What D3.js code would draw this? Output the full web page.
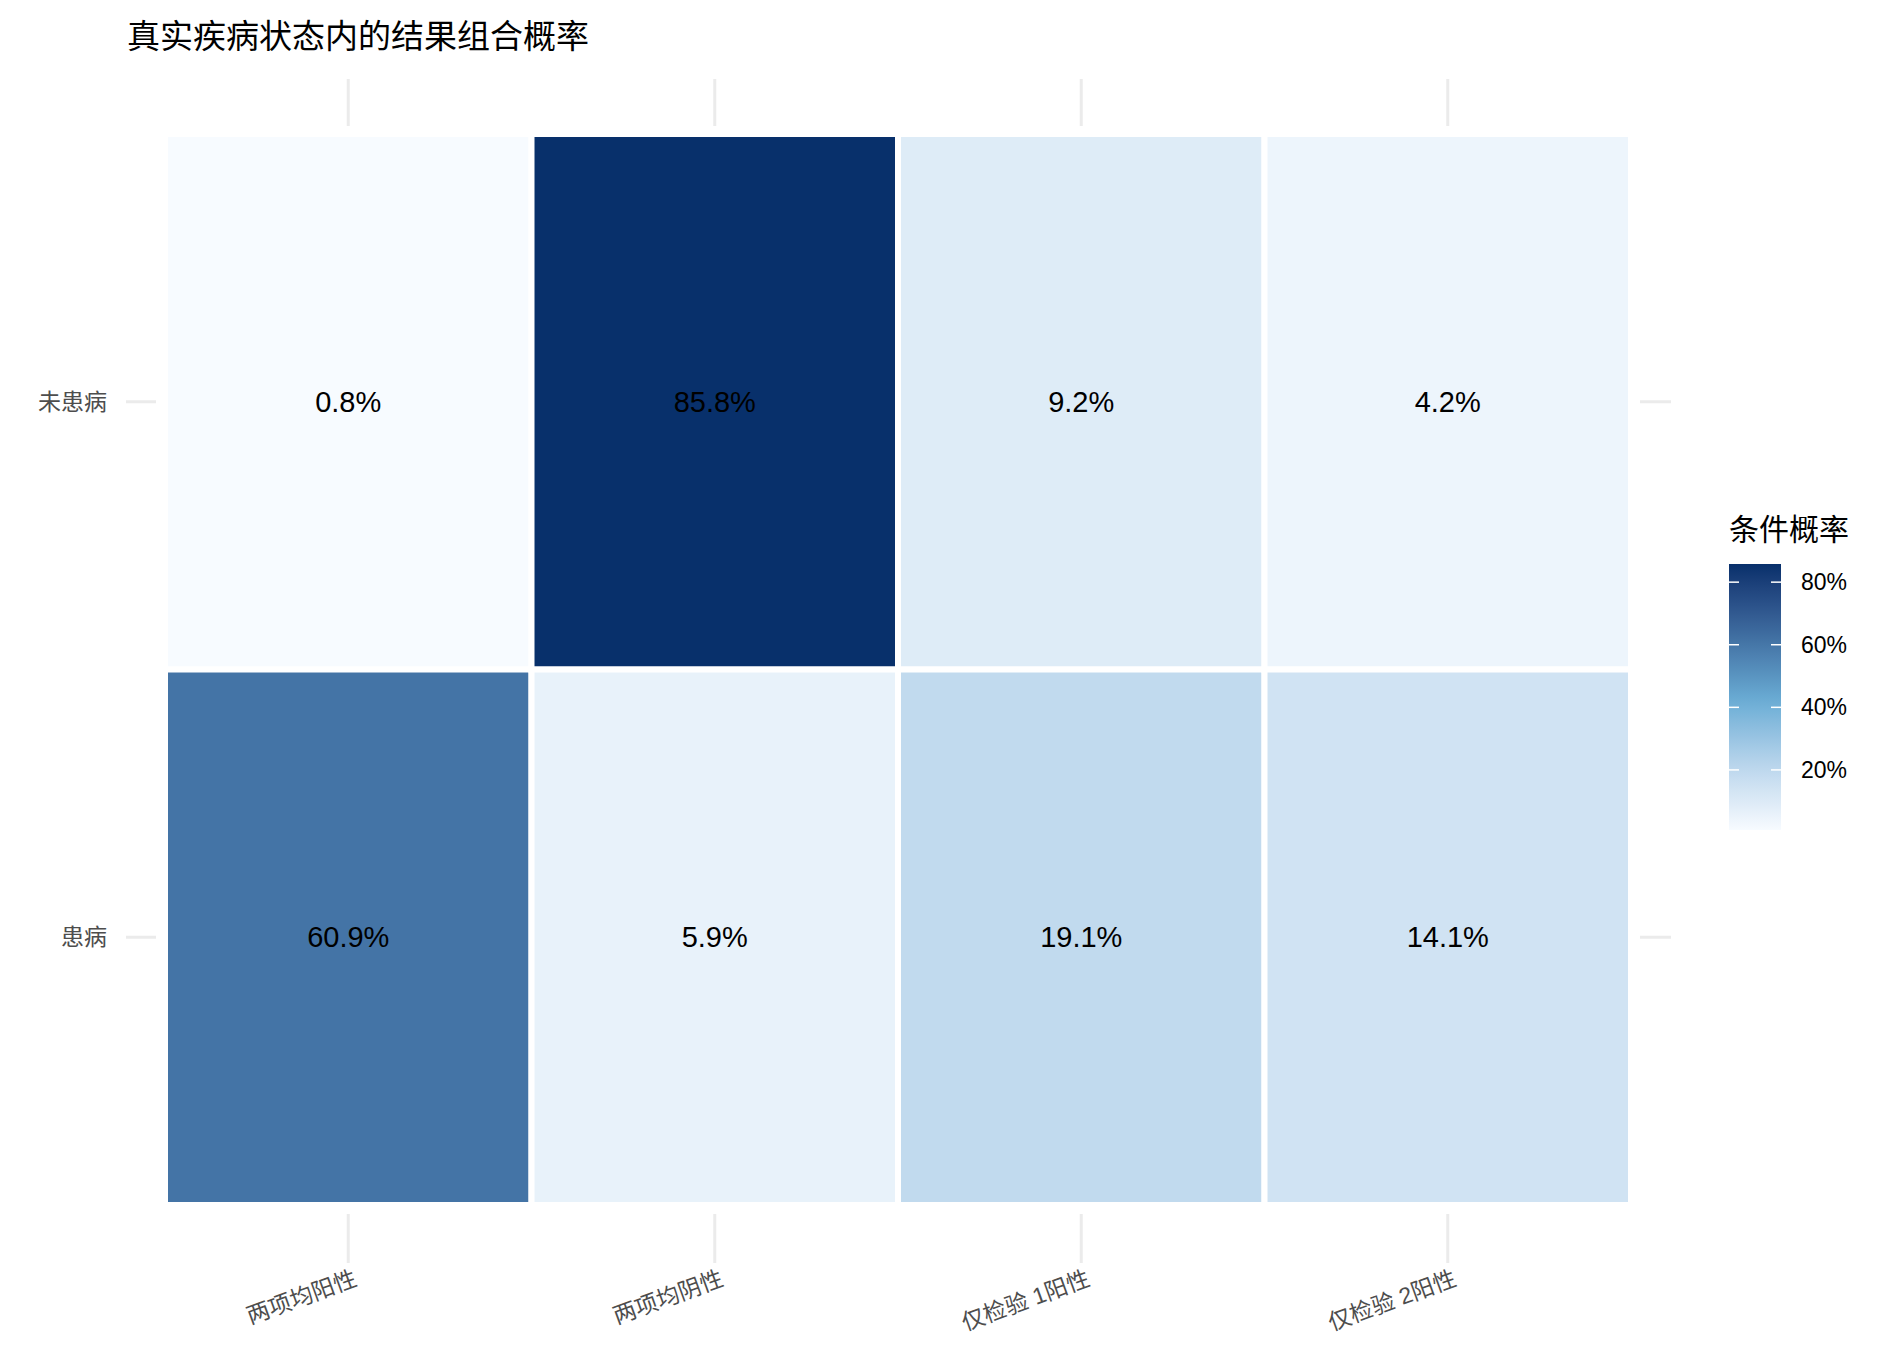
<!DOCTYPE html>
<html><head><meta charset="utf-8">
<script src="https://cdn.jsdelivr.net/npm/d3@7"></script>
<style>body{margin:0;background:#fff}text{font-family:"Liberation Sans","Noto Sans CJK SC",sans-serif}</style>
</head><body><svg id="c" width="1892" height="1364"></svg>
<script>
const categories = ["两项均阳性","两项均阴性","仅检验 1阳性","仅检验 2阳性"];
const states = ["未患病","患病"];
const valuesHealthy = [0.8, 85.8, 9.2, 4.2];
const valuesDiseased = [60.9, 5.9, 19.1, 14.1];
const legendTicks = [20, 40, 60, 80];
const title = "真实疾病状态内的结果组合概率";
const legendTitle = "条件概率";

const cells = [];
categories.forEach((c,i)=>{cells.push({x:c,y:states[0],v:valuesHealthy[i]});cells.push({x:c,y:states[1],v:valuesDiseased[i]});});
const all = cells.map(d=>d.v);
const vmin = d3.min(all), vmax = d3.max(all);

const svg = d3.select("#c");
const L=165,R=1631,T=134,B=1205;
const x = d3.scaleBand().domain(categories).range([L,R]);
const y = d3.scaleBand().domain(states).range([T,B]);
const tn = d3.scaleLinear().domain([vmin,vmax]).range([0,1]);
const col = d3.scaleLinear().domain([0,0.22,0.48,1]).range(["#f7fbff","#c0d9ee","#6baed6","#08306b"]).interpolate(d3.interpolateLab);
const fill = v=>col(tn(v));

// grid ticks (ggplot style)
const g = svg.append("g");
categories.forEach(c=>{const cx=x(c)+x.bandwidth()/2;
  g.append("line").attr("x1",cx).attr("x2",cx).attr("y1",79).attr("y2",126).attr("stroke","#ebebeb").attr("stroke-width",3);
  g.append("line").attr("x1",cx).attr("x2",cx).attr("y1",1214).attr("y2",1263).attr("stroke","#ebebeb").attr("stroke-width",3);
});
states.forEach(s=>{const cy=y(s)+y.bandwidth()/2;
  g.append("line").attr("x1",126).attr("x2",156).attr("y1",cy).attr("y2",cy).attr("stroke","#ebebeb").attr("stroke-width",3);
  g.append("line").attr("x1",1640).attr("x2",1671).attr("y1",cy).attr("y2",cy).attr("stroke","#ebebeb").attr("stroke-width",3);
});

svg.append("g").selectAll("rect").data(cells).join("rect")
  .attr("x",d=>x(d.x)).attr("y",d=>y(d.y)).attr("width",x.bandwidth()).attr("height",y.bandwidth())
  .attr("fill",d=>fill(d.v)).attr("stroke","#fff").attr("stroke-width",6);
svg.append("g").selectAll("text").data(cells).join("text")
  .attr("x",d=>x(d.x)+x.bandwidth()/2).attr("y",d=>y(d.y)+y.bandwidth()/2)
  .attr("text-anchor","middle").attr("dominant-baseline","central").attr("font-size",29).attr("fill","#000")
  .text(d=>d.v.toFixed(1)+"%");

// axis labels
states.forEach(s=>svg.append("text").attr("x",107).attr("y",y(s)+y.bandwidth()/2).attr("text-anchor","end")
  .attr("dominant-baseline","central").attr("font-size",23).attr("fill","#4d4d4d").text(s));
categories.forEach(c=>{const cx=x(c)+x.bandwidth()/2;
  svg.append("text").attr("transform",`translate(${cx+10},${1285}) rotate(-20)`).attr("text-anchor","end")
  .attr("font-size",23).attr("fill","#4d4d4d").text(c);});

svg.append("text").attr("x",127).attr("y",48).attr("font-size",33).attr("fill","#000").text(title);

// legend
const lx=1729, lw=52, ly0=564, ly1=830;
const ls = d3.scaleLinear().domain([vmin,vmax]).range([ly1,ly0]);
const defs=svg.append("defs");
const grad=defs.append("linearGradient").attr("id","lg").attr("x1",0).attr("y1",1).attr("x2",0).attr("y2",0);
d3.range(0,1.0001,0.05).forEach(t=>grad.append("stop").attr("offset",t).attr("stop-color",col(t)));
svg.append("text").attr("x",lx).attr("y",540).attr("font-size",30).attr("fill","#000").text(legendTitle);
svg.append("rect").attr("x",lx).attr("y",ly0).attr("width",lw).attr("height",ly1-ly0).attr("fill","url(#lg)");
legendTicks.forEach(t=>{const yy=ls(t);
  svg.append("line").attr("x1",lx).attr("x2",lx+10).attr("y1",yy).attr("y2",yy).attr("stroke","#fff").attr("stroke-width",1.5);
  svg.append("line").attr("x1",lx+lw-10).attr("x2",lx+lw).attr("y1",yy).attr("y2",yy).attr("stroke","#fff").attr("stroke-width",1.5);
  svg.append("text").attr("x",lx+lw+20).attr("y",yy).attr("dominant-baseline","central").attr("font-size",23).attr("fill","#000").text(t+"%");
});
</script></body></html>
